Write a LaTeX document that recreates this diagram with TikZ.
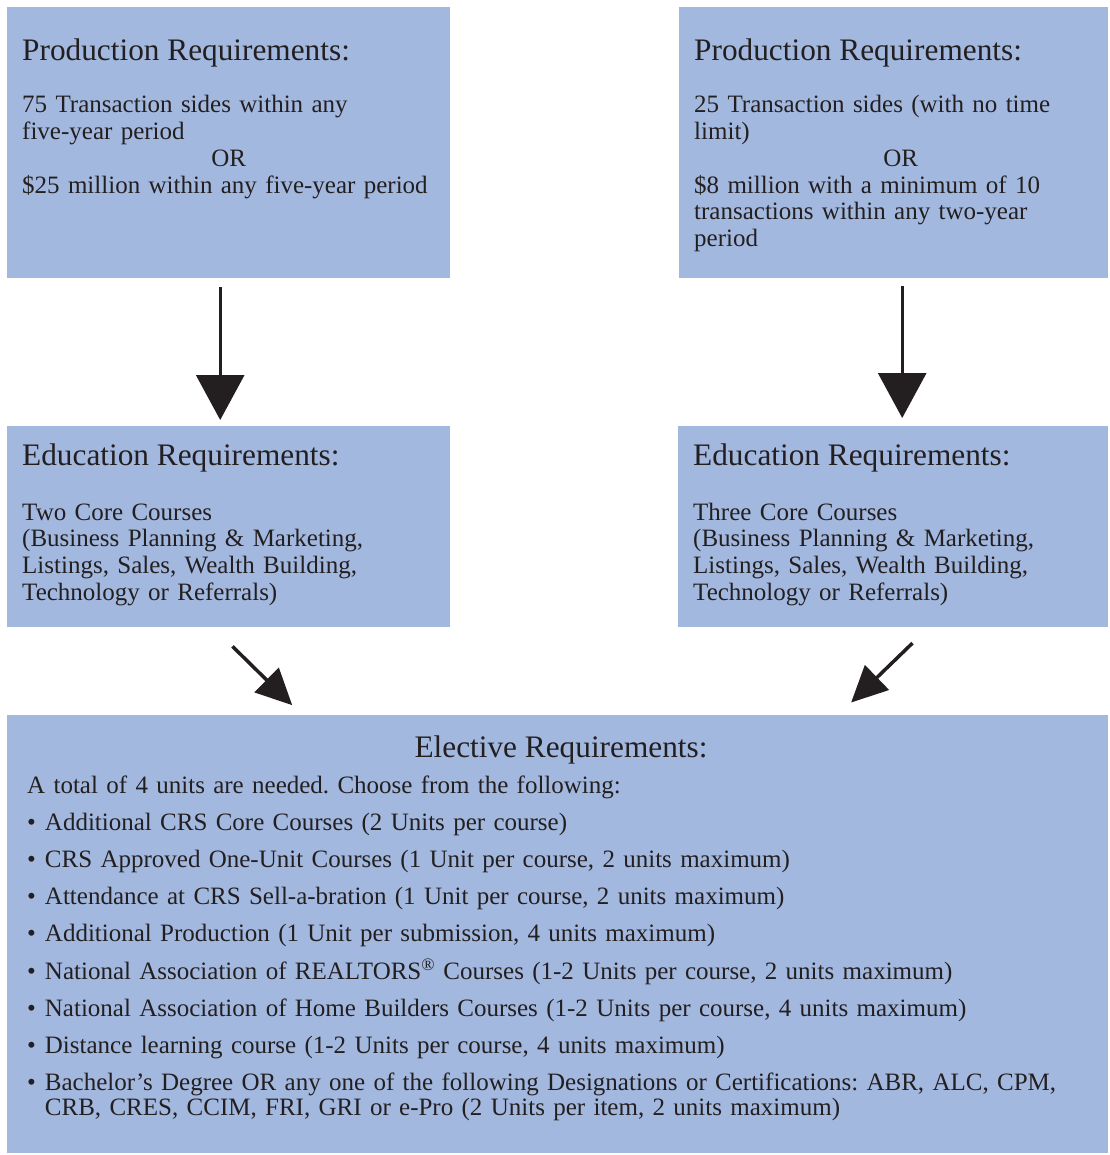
\documentclass[tikz,border=0pt]{standalone}
\usepackage{fontspec}
\setmainfont{Liberation Serif}
\usetikzlibrary{arrows.meta}
\definecolor{reqblue}{RGB}{163,184,223}
\definecolor{reqtext}{RGB}{35,31,32}
\frenchspacing

\begin{document}
\begin{tikzpicture}[x=1pt, y=-1pt,
  reqbox/.style={fill=reqblue, anchor=north west, inner sep=0pt},
  reqtitle/.style={anchor=base west, inner sep=0pt, text=reqtext, font=\fontsize{31.3}{33}\selectfont},
  reqbody/.style={anchor=base west, inner sep=0pt, text=reqtext, align=left, text width=520pt, font=\fontsize{25}{26.7}\selectfont},
  downarrow/.style={line width=3pt, reqtext, -{Triangle[width=48pt,length=45pt]}},
  slantarrow/.style={line width=3.5pt, reqtext, -{Triangle[width=34pt,length=36pt]}}]
  %
  \useasboundingbox (0,0) rectangle (1109,1155);
  %
  \node[reqbox, minimum width=443pt, minimum height=271pt] (prodL) at (7,7) {};
  \node[reqbox, minimum width=429pt, minimum height=271pt] (prodR) at (679,7) {};
  \node[reqbox, minimum width=443pt, minimum height=201pt] (eduL) at (7,426) {};
  \node[reqbox, minimum width=430pt, minimum height=201pt] (eduR) at (678,426) {};
  \node[reqbox, minimum width=1101pt, minimum height=438pt] (elect) at (7,715) {};
  %
  \node[reqtitle] (prodLtitle) at (22,61) {Production Requirements:};
  \node[reqbody] (prodLtext) at (22,113) {75 Transaction sides within any\\
    five-year period\\
    \makebox[413pt]{OR}\\
    \$25 million within any five-year period};
  \node[reqtitle] (prodRtitle) at (694,61) {Production Requirements:};
  \node[reqbody] (prodRtext) at (694,113) {25 Transaction sides (with no time\\
    limit)\\
    \makebox[413pt]{OR}\\
    \$8 million with a minimum of 10\\
    transactions within any two-year\\
    period};
  %
  \node[reqtitle] (eduLtitle) at (22,465) {Education Requirements:};
  \node[reqbody] (eduLtext) at (22,520) {Two Core Courses\\
    (Business Planning \& Marketing,\\
    Listings, Sales, Wealth Building,\\
    Technology or Referrals)};
  \node[reqtitle] (eduRtitle) at (693,465) {Education Requirements:};
  \node[reqbody] (eduRtext) at (693,520) {Three Core Courses\\
    (Business Planning \& Marketing,\\
    Listings, Sales, Wealth Building,\\
    Technology or Referrals)};
  %
  \node[reqtitle, anchor=base] (electtitle) at (561,757) {Elective Requirements:};
  \node[reqbody, text width=1070pt, font=\fontsize{25}{25.7}\selectfont] (electtext) at (27,793) {A total of 4 units are needed. Choose from the following:\\[11.3pt]
    \textbullet\hspace{9pt}Additional CRS Core Courses (2 Units per course)\\[11.3pt]
    \textbullet\hspace{9pt}CRS Approved One-Unit Courses (1 Unit per course, 2 units maximum)\\[11.3pt]
    \textbullet\hspace{9pt}Attendance at CRS Sell-a-bration (1 Unit per course, 2 units maximum)\\[11.3pt]
    \textbullet\hspace{9pt}Additional Production (1 Unit per submission, 4 units maximum)\\[11.3pt]
    \textbullet\hspace{9pt}National Association of REALTORS\textsuperscript{®} Courses (1-2 Units per course, 2 units maximum)\\[11.3pt]
    \textbullet\hspace{9pt}National Association of Home Builders Courses (1-2 Units per course, 4 units maximum)\\[11.3pt]
    \textbullet\hspace{9pt}Distance learning course (1-2 Units per course, 4 units maximum)\\[11.3pt]
    \textbullet\hspace{9pt}Bachelor’s Degree OR any one of the following Designations or Certifications: ABR, ALC, CPM,\\
    \phantom{\textbullet\hspace{9pt}}CRB, CRES, CCIM, FRI, GRI or e-Pro (2 Units per item, 2 units maximum)};
  %
  \draw[downarrow, shorten <=9pt, shorten >=6pt] ([xshift=-8.5pt]prodL.south) -- ([xshift=-8.5pt]eduL.north);
  \draw[downarrow, shorten <=8pt, shorten >=8pt] ([xshift=8.5pt]prodR.south) -- ([xshift=9pt]eduR.north);
  \draw[slantarrow, shorten <=27pt, shorten >=14pt] ([xshift=-15.5pt]eduL.south) -- ([xshift=-255.5pt]elect.north);
  \draw[slantarrow, shorten <=22.6pt, shorten >=18pt] ([xshift=35.5pt]eduR.south) -- ([xshift=280.5pt]elect.north);
\end{tikzpicture}
\end{document}
